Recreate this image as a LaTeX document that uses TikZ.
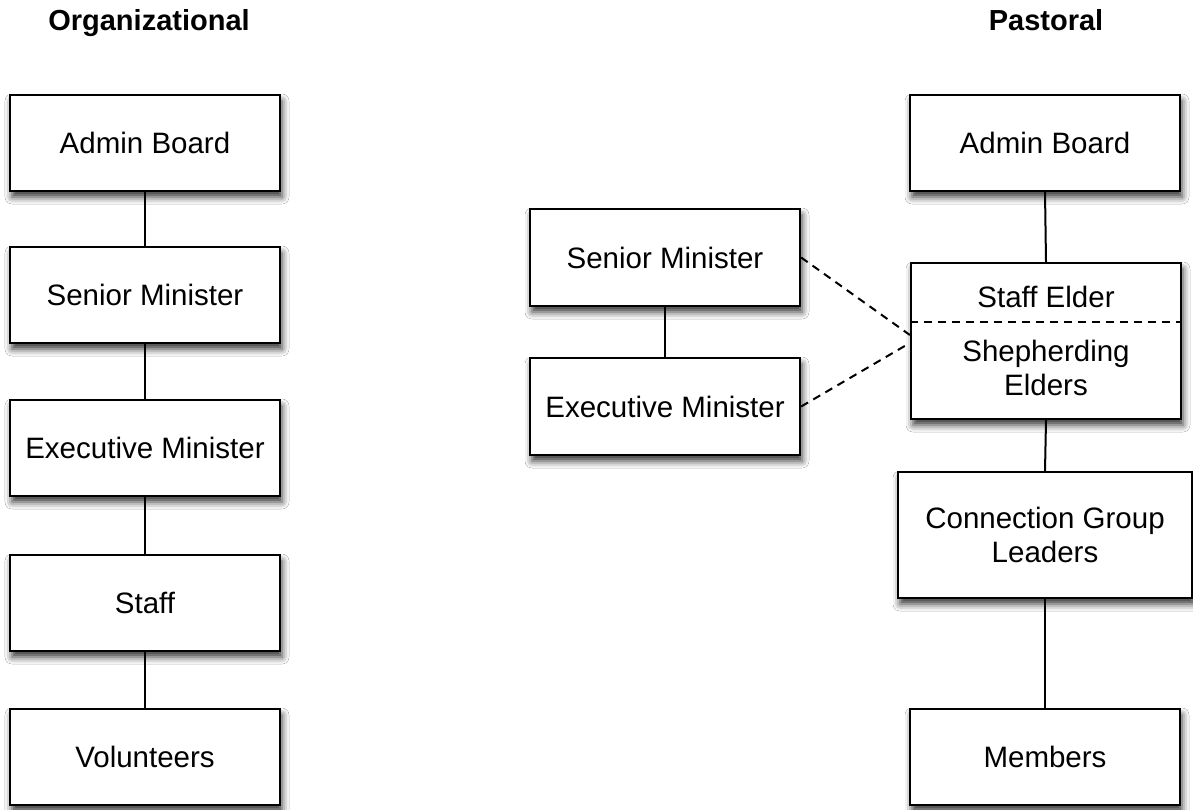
\documentclass[tikz,border=0pt]{standalone}
\usepackage{fontspec}
\setmainfont{Liberation Sans}
\usetikzlibrary{shadows.blur}
\tikzset{
  box/.style={draw=black, line width=2.3pt, fill=white, rectangle, align=center,
    font=\fontsize{29.5}{34}\selectfont, inner sep=0pt,
    blur shadow={shadow xshift=2pt, shadow yshift=-6pt, shadow blur radius=7pt, shadow opacity=80}},
  title/.style={font=\fontsize{29}{34}\selectfont\bfseries, anchor=base, inner sep=0pt},
  link/.style={line width=2pt, draw=black},
  dlink/.style={line width=2pt, draw=black, dash pattern=on 8pt off 6pt},
  lbl/.style={font=\fontsize{29.5}{34}\selectfont, inner sep=0pt, align=center}
}
\begin{document}
\begin{tikzpicture}[x=1pt,y=-1pt]
\useasboundingbox[fill=white] (0,0) rectangle (1193,810);
% titles
\node[title] (t1) at (149,31) {Organizational};
\node[title] (t2) at (1046,31) {Pastoral};
% left column
\node[box, minimum width=270pt, minimum height=96pt] (la) at (145,143) {Admin Board};
\node[box, minimum width=270pt, minimum height=96pt] (ls) at (145,295) {Senior Minister};
\node[box, minimum width=270pt, minimum height=96pt] (le) at (145,448) {Executive Minister};
\node[box, minimum width=270pt, minimum height=96pt] (lst) at (145,603) {Staff};
\node[box, minimum width=270pt, minimum height=96pt] (lv) at (145,757) {Volunteers};
\draw[link] (la.south) -- (ls.north);
\draw[link] (ls.south) -- (le.north);
\draw[link] (le.south) -- (lst.north);
\draw[link] (lst.south) -- (lv.north);
% middle
\node[box, minimum width=270pt, minimum height=97pt] (ms) at (665,257.5) {Senior Minister};
\node[box, minimum width=270pt, minimum height=97pt] (me) at (665,406.5) {Executive Minister};
\draw[link] (ms.south) -- (me.north);
% right column
\node[box, minimum width=270pt, minimum height=96pt] (ra) at (1045,143) {Admin Board};
\node[box, minimum width=270pt, minimum height=156pt] (se) at (1046,341) {};
\node[lbl] (set) at (1046,297) {Staff Elder};
\node[lbl] (seb) at (1046,368) {Shepherding\\Elders};
\coordinate (dl) at (se.west |- 0,322);
\coordinate (dr) at (se.east |- 0,322);
\draw[dlink] (dl) -- (dr);
\node[box, minimum width=294pt, minimum height=126pt] (cg) at (1045,535) {Connection Group\\Leaders};
\node[box, minimum width=270pt, minimum height=96pt] (rm) at (1045,757) {Members};
\draw[link] (ra.south) -- (se.north);
\draw[link] (se.south) -- (cg.north);
\draw[link] (cg.south) -- (rm.north);
% dashed links
\draw[dlink] (ms.east) -- ([yshift=6pt]se.west);
\draw[dlink] (me.east) -- ([yshift=-2pt]se.west);
\end{tikzpicture}
\end{document}
